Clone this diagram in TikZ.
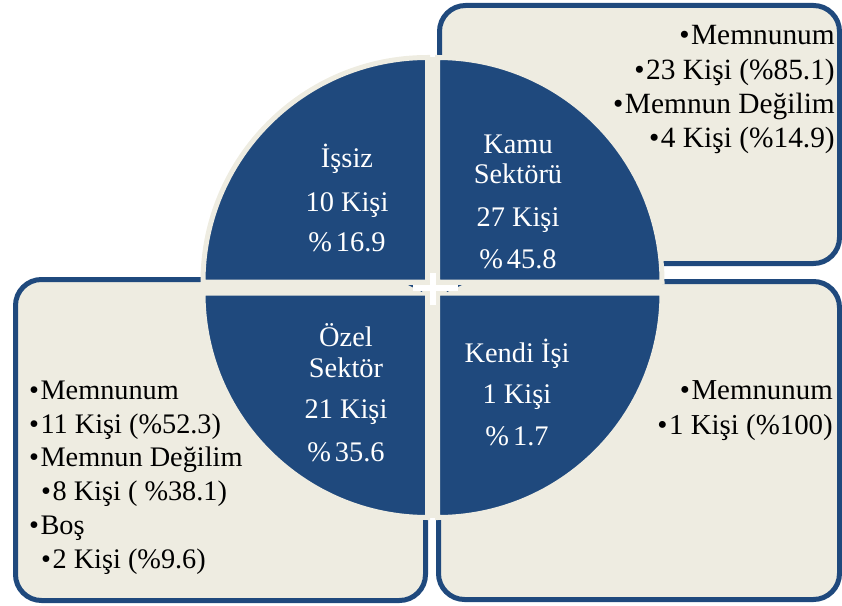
\documentclass[tikz,border=0pt]{standalone}
\usepackage{fontspec}
\setmainfont{Liberation Serif}
\definecolor{navy}{HTML}{1F497D}
\definecolor{cream}{HTML}{EEECE1}
\newcommand\itembul{\textbullet\kern1.5pt}
\newcommand\pct{\%\kern4pt}
\tikzset{
  panel/.style={fill=cream, draw=navy, line width=5bp, rounded corners=26bp},
  quarter/.style={fill=navy, draw=cream, line width=5bp, line join=miter},
  blk/.style={inner sep=0pt, text=black},
  wht/.style={inner sep=0pt, text=white, font=\fontsize{28.5}{34}\selectfont, anchor=base},
  trfont/.style={font=\fontsize{29.5}{34}\selectfont},
  blfont/.style={font=\fontsize{28.4}{34}\selectfont},
  brfont/.style={font=\fontsize{29}{34}\selectfont},
}
\begin{document}
\begin{tikzpicture}[x=1bp,y=-1bp]
\useasboundingbox (0,0) rectangle (842,606);

% side panels
\draw[panel] (439.5,5.5) rectangle (839.5,263.5);
\draw[panel] (15.5,279.5) rectangle (425.5,600.5);
\draw[panel] (438.5,281.5) rectangle (839.5,599.5);

% cream gaps between the quarters
\fill[cream] (427.5,57) rectangle (437.5,518);
\fill[cream] (203,282) rectangle (662,293);

% the four quarters
\filldraw[quarter] (427.5,282) -- ++(-224.5,0) arc[start angle=180, end angle=270, radius=224.5] -- cycle;
\filldraw[quarter] (437.5,282) -- ++(224.5,0) arc[start angle=0, end angle=-90, radius=224.5] -- cycle;
\filldraw[quarter] (427.5,293) -- ++(-224.5,0) arc[start angle=180, end angle=90, radius=224.5] -- cycle;
\filldraw[quarter] (437.5,293) -- ++(224.5,0) arc[start angle=0, end angle=90, radius=224.5] -- cycle;

% centre mark
\fill[navy] (408,285) -- (423,285) -- (422,292) -- cycle;
\fill[navy] (445,285) -- (462,285) -- (447,292) -- cycle;
\fill[white] (413,285) rectangle (458,291);
\fill[white] (430,273) rectangle (436,305);

% quarter labels
\node[wht] (q1a) at (347,168) {İşsiz};
\node[wht] (q1b) at (347,212) {10 Kişi};
\node[wht] (q1c) at (347,252) {\pct16.9};

\node[wht] (q2a) at (518,154) {Kamu};
\node[wht] (q2b) at (518,184) {Sektörü};
\node[wht] (q2c) at (518,227) {27 Kişi};
\node[wht] (q2d) at (518,268) {\pct45.8};

\node[wht] (q3a) at (346,346) {Özel};
\node[wht] (q3b) at (346,377) {Sektör};
\node[wht] (q3c) at (346,418) {21 Kişi};
\node[wht] (q3d) at (346,461) {\pct35.6};

\node[wht] (q4a) at (517,362) {Kendi İşi};
\node[wht] (q4b) at (517,403) {1 Kişi};
\node[wht] (q4c) at (517,445) {\pct1.7};

% panel texts
\node[blk, trfont, anchor=base east] (tr1) at (835,45) {\itembul Memnunum};
\node[blk, trfont, anchor=base east] (tr2) at (835,80) {\itembul 23 Kişi (\%85.1)};
\node[blk, trfont, anchor=base east] (tr3) at (835,114) {\itembul Memnun Değilim};
\node[blk, trfont, anchor=base east] (tr4) at (835,148) {\itembul 4 Kişi (\%14.9)};

\node[blk, blfont, anchor=base west] (bl1) at (29,399) {\itembul Memnunum};
\node[blk, blfont, anchor=base west] (bl2) at (29,433) {\itembul 11 Kişi (\%52.3)};
\node[blk, blfont, anchor=base west] (bl3) at (29,466) {\itembul Memnun Değilim};
\node[blk, blfont, anchor=base west] (bl4) at (41,500) {\itembul 8 Kişi ( \%38.1)};
\node[blk, blfont, anchor=base west] (bl5) at (29,534) {\itembul Boş};
\node[blk, blfont, anchor=base west] (bl6) at (41,568) {\itembul 2 Kişi (\%9.6)};

\node[blk, brfont, anchor=base east] (br1) at (833,399) {\itembul Memnunum};
\node[blk, brfont, anchor=base east] (br2) at (833,434) {\itembul 1 Kişi (\%100)};
\end{tikzpicture}
\end{document}
